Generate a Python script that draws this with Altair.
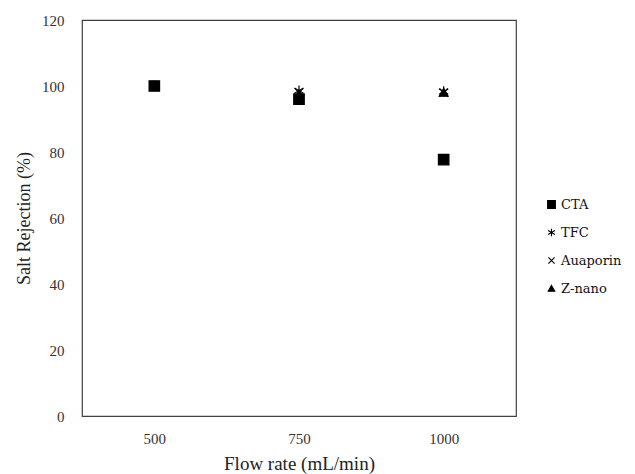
import altair as alt
import pandas as pd

flow = ["500", "750", "1000"]
series = ["CTA", "TFC", "Auaporin", "Z-nano"]
cta = [100.0, 96.0, 77.7]
tfc = [100.0, 98.6, 98.3]
auaporin = [100.0, 98.0, 98.0]
znano = [100.0, 97.4, 98.0]

rows = []
for name, vals in zip(series, [cta, tfc, auaporin, znano]):
    for f, v in zip(flow, vals):
        rows.append({"flow": f, "series": name, "value": v})
df = pd.DataFrame(rows)

asterisk = "M0,-1L0,1M-0.87,-0.5L0.87,0.5M-0.87,0.5L0.87,-0.5"
xcross = "M-0.8,-0.8L0.8,0.8M-0.8,0.8L0.8,-0.8"
triangle = "M0,-0.8L0.85,0.7L-0.85,0.7Z"
shapes = ["square", asterisk, xcross, triangle]
blacks = ["black"] * 4

font = "Liberation Serif"
legend_font = "DejaVu Serif"

legend = alt.Legend(title=None, orient="none", legendX=463, legendY=178,
                    symbolStrokeWidth=1.1, symbolSize=60,
                    labelFont=legend_font, labelFontSize=13, labelColor="#111111",
                    rowPadding=14, labelOffset=3)

base = alt.Chart(df).mark_point(
    filled=True, strokeWidth=1.2, opacity=1, size=110
).encode(
    x=alt.X("flow:N", sort=flow, scale=alt.Scale(domain=flow, padding=0.5),
            axis=alt.Axis(title="Flow rate (mL/min)", labelAngle=0, ticks=False,
                          domain=False, grid=False, labelPadding=15, titlePadding=8,
                          titleFontSize=19)),
    y=alt.Y("value:Q", scale=alt.Scale(domain=[0, 120], nice=False),
            axis=alt.Axis(title="Salt Rejection (%)", values=[0, 20, 40, 60, 80, 100, 120],
                          ticks=False, domain=False, grid=False, labelPadding=18,
                          titlePadding=8, titleFontSize=18)),
    shape=alt.Shape("series:N", sort=series,
                    scale=alt.Scale(domain=series, range=shapes), legend=legend),
    fill=alt.Fill("series:N", sort=series,
                  scale=alt.Scale(domain=series, range=blacks), legend=legend),
    stroke=alt.Stroke("series:N", sort=series,
                      scale=alt.Scale(domain=series, range=blacks), legend=legend),
).properties(
    width=434, height=396,
    background="white",
    autosize=alt.AutoSizeParams(type="none"),
    padding={"left": 82, "top": 20, "right": 119, "bottom": 58},
)

chart = base.configure(font=font).configure_view(
    stroke="#404040", strokeWidth=1.2
).configure_axis(
    labelFont=font, titleFont=font, labelFontSize=15,
    labelColor="#333333", titleColor="#222222", titleFontWeight="normal"
).configure_legend(
    labelFont=legend_font, labelFontSize=13, labelColor="#111111"
)

chart.save("out.html", embed_options={"renderer": "svg", "actions": False})
